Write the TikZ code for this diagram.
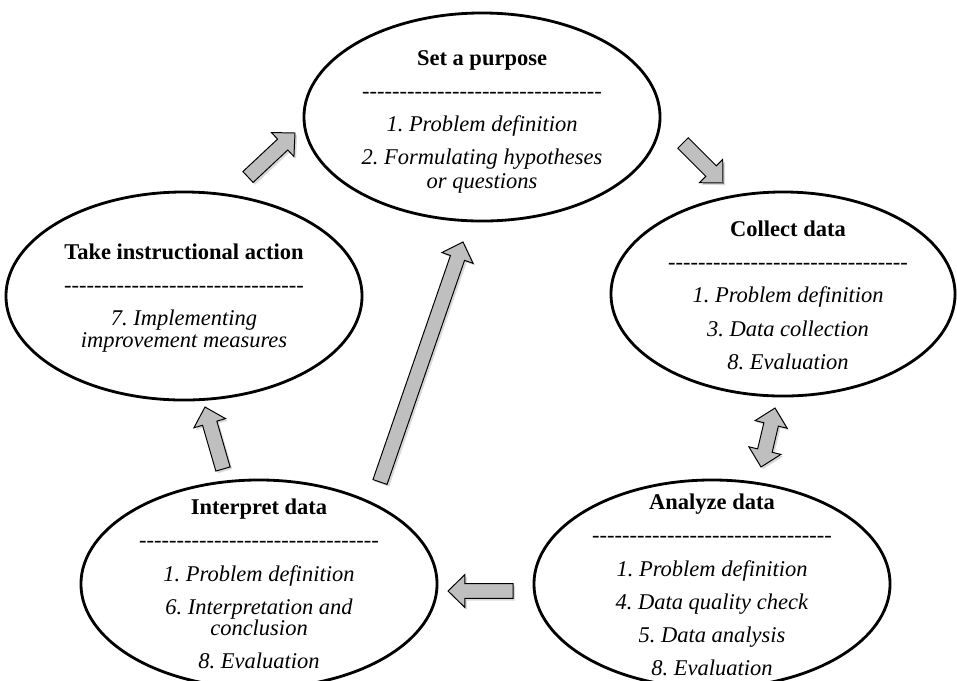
\documentclass[tikz,border=0pt]{standalone}
\usepackage{fontspec}
\setmainfont{Liberation Serif}
\usetikzlibrary{calc,shapes.geometric,shadows}
\frenchspacing

\newcommand{\shaftw}{5.3pt}
\newcommand{\headw}{11.7pt}
\newcommand{\headl}{12pt}
\newcommand{\dashrow}{\foreach \k in {1,...,32}{-}}

% block arrow from tail #1 to tip #2
\newcommand{\blockarrow}[2]{%
  \coordinate (neck) at ($(#2)!\headl!(#1)$);
  \draw[blockarrow] ($(#1)!\shaftw!90:(#2)$) -- ($(neck)!\shaftw!-90:(#1)$)
    -- ($(neck)!\headw!-90:(#1)$) -- (#2) -- ($(neck)!\headw!90:(#1)$)
    -- ($(neck)!\shaftw!90:(#1)$) -- ($(#1)!\shaftw!-90:(#2)$) -- cycle;}
% block arrow with two heads
\newcommand{\dblockarrow}[2]{%
  \coordinate (necka) at ($(#1)!\headl!(#2)$);
  \coordinate (neckb) at ($(#2)!\headl!(#1)$);
  \draw[blockarrow] (#1) -- ($(necka)!\headw!90:(#2)$) -- ($(necka)!\shaftw!90:(#2)$)
    -- ($(neckb)!\shaftw!-90:(#1)$) -- ($(neckb)!\headw!-90:(#1)$) -- (#2)
    -- ($(neckb)!\headw!90:(#1)$) -- ($(neckb)!\shaftw!90:(#1)$)
    -- ($(necka)!\shaftw!-90:(#2)$) -- ($(necka)!\headw!-90:(#2)$) -- cycle;}

\begin{document}
\begin{tikzpicture}[x=0.025cm,y=-0.025cm,
  stage/.style={draw,ellipse,line width=2pt,inner sep=0pt,minimum width=8.9cm,minimum height=5.2cm},
  stagetext/.style={align=center,anchor=north,inner sep=0pt,font=\fontsize{16}{23.5}\selectfont},
  blockarrow/.style={draw,line width=0.7pt,fill=black!25,line join=miter,
    drop shadow={shadow xshift=1.5pt,shadow yshift=-1.5pt,opacity=0.3}}]
\useasboundingbox (0,0) rectangle (957,680);

\node[stage] (purpose) at (482,117) {};
\node[stagetext] (purpose-t) at (482,50)
{\textbf{Set a purpose}\\ \dashrow\\ \textit{1. Problem definition}\\
 \textit{2. Formulating hypotheses}\\[-6pt] \textit{or questions}};

\node[stage,minimum width=8.6cm,minimum height=5.1cm] (collect) at (783,294) {};
\node[stagetext] (collect-t) at (788,221)
{\textbf{Collect data}\\ \dashrow\\ \textit{1. Problem definition}\\
 \textit{3. Data collection}\\ \textit{8. Evaluation}};

\node[stage] (analyze) at (712,584) {};
\node[stagetext] (analyze-t) at (712,494)
{\textbf{Analyze data}\\ \dashrow\\ \textit{1. Problem definition}\\
 \textit{4. Data quality check}\\ \textit{5. Data analysis}\\ \textit{8. Evaluation}};

\node[stage] (interpret) at (259,584) {};
\node[stagetext] (interpret-t) at (259,499)
{\textbf{Interpret data}\\ \dashrow\\ \textit{1. Problem definition}\\
 \textit{6. Interpretation and}\\[-8pt] \textit{conclusion}\\ \textit{8. Evaluation}};

\node[stage] (action) at (184,296) {};
\node[stagetext] (action-t) at (184,244)
{\textbf{Take instructional action}\\ \dashrow\\ \textit{7. Implementing}\\[-8pt]
 \textit{improvement measures}};

% arrow ends
\coordinate (a1s) at (248,177); \coordinate (a1e) at (295,133);
\coordinate (a2s) at (683,143); \coordinate (a2e) at (723,183);
\coordinate (a3s) at (775,408); \coordinate (a3e) at (761,467);
\coordinate (a4s) at (380,482); \coordinate (a4e) at (463,242);
\coordinate (a5s) at (513,591); \coordinate (a5e) at (448,591);
\coordinate (a6s) at (223,469); \coordinate (a6e) at (205,407);

\blockarrow{a1s}{a1e}
\blockarrow{a2s}{a2e}
\dblockarrow{a3s}{a3e}
\blockarrow{a4s}{a4e}
\blockarrow{a5s}{a5e}
\blockarrow{a6s}{a6e}
\end{tikzpicture}
\end{document}
